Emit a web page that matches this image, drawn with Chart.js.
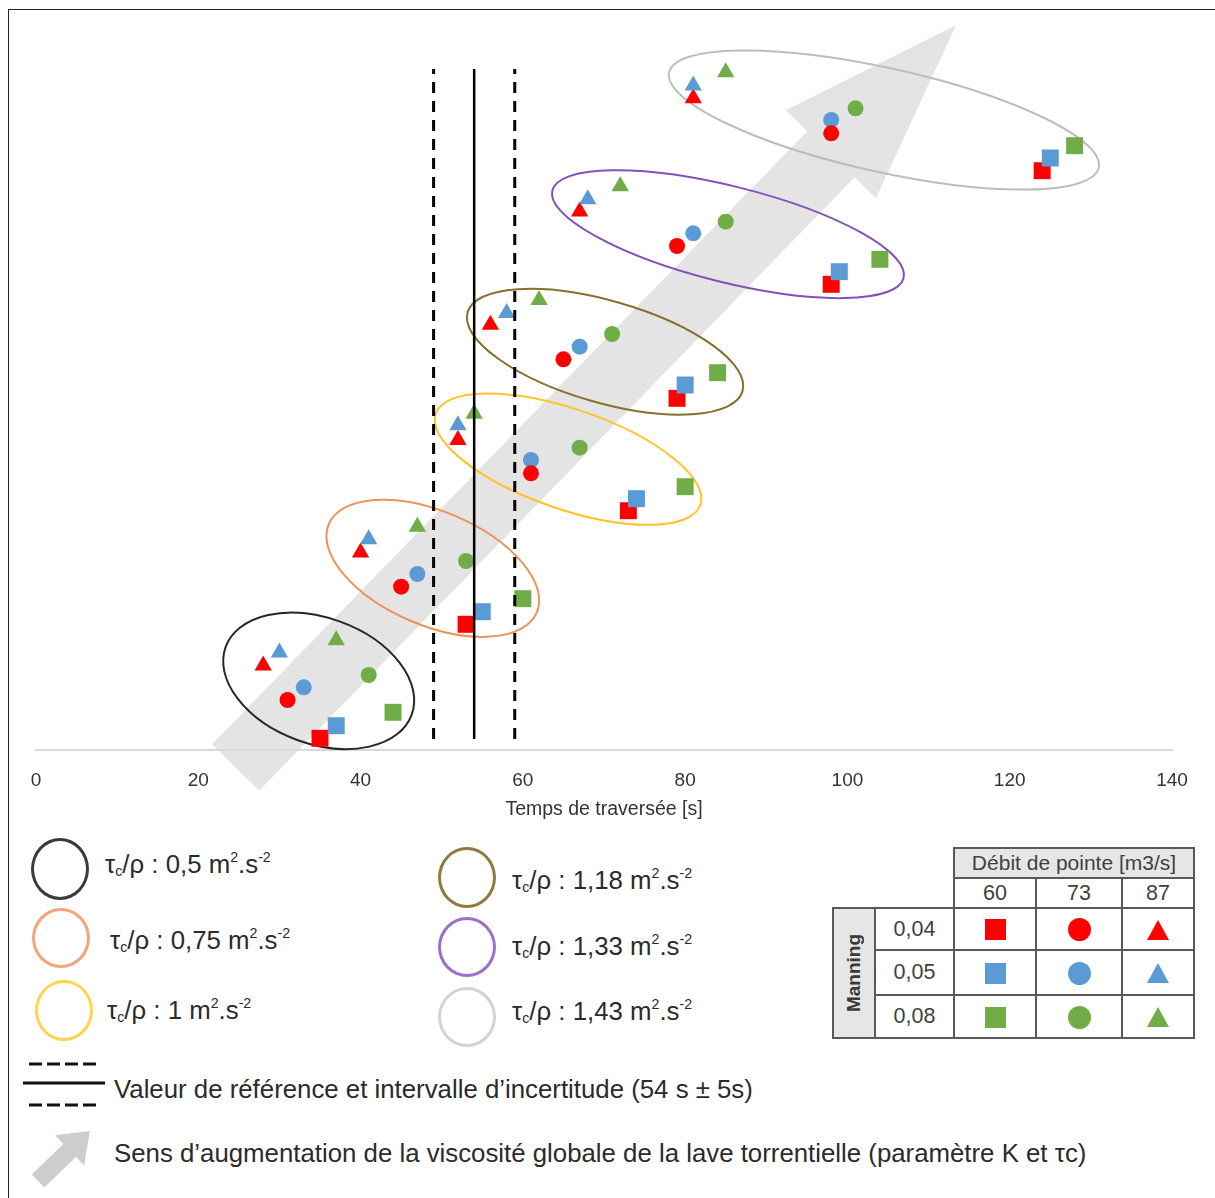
<!DOCTYPE html>
<html>
<head>
<meta charset="utf-8">
<script src="https://cdn.jsdelivr.net/npm/chart.js@4.4.1/dist/chart.umd.min.js"></script>
<style>
  html, body { margin:0; padding:0; background:#fff; }
  body { width:1215px; height:1198px; position:relative; overflow:hidden; font-family:'Liberation Sans', Arial, sans-serif; }
  #frame { position:absolute; left:8px; top:9px; width:1230px; height:1220px; border-left:1.5px solid #222; border-top:1.5px solid #222; pointer-events:none; z-index:5; }
  #c { position:absolute; left:0; top:0; }
  .lbl { position:absolute; font-size:25.8px; color:#2b2b2b; white-space:nowrap; line-height:26px; }
  .lbl sub { font-size:0.55em; vertical-align:-0.2em; line-height:0; }
  .lbl sup { font-size:0.55em; vertical-align:0.75em; line-height:0; }
  .ring { position:absolute; border-radius:50%; box-sizing:border-box; border-style:solid; border-width:3.5px; }
  #tbl { position:absolute; left:832px; top:847px; border-collapse:collapse; table-layout:fixed; font-size:21.5px; color:#404040; }
  #tbl td { border:2px solid #595959; text-align:center; vertical-align:middle; padding:0; }
  #tbl td.nb { border:none; }
  #tbl td.hdr { background:#E7E6E6; font-size:21px; }
  #tbl td.man { background:#E7E6E6; }
  #tbl td.man div { writing-mode:vertical-rl; transform:rotate(180deg); font-weight:bold; font-size:19px; color:#3a3a3a; margin:auto; }
  .sym { display:inline-block; vertical-align:middle; }
  .sq { width:21px; height:21px; }
  .ci { width:23px; height:23px; border-radius:50%; }
  .tr { width:0; height:0; border-left:11px solid transparent; border-right:11px solid transparent; border-bottom-width:20px; border-bottom-style:solid; }
</style>
</head>
<body>
<canvas id="c" width="1215" height="830"></canvas>
<div id="frame"></div>

<!-- legend: yield stress groups -->
<div class="ring" style="left:31px;top:838px;width:58px;height:62px;border-color:#3a3a3a;"></div>
<div class="ring" style="left:32px;top:908px;width:58px;height:60px;border-color:#F4A67A;"></div>
<div class="ring" style="left:35px;top:980px;width:58px;height:61px;border-color:#FFD54F;"></div>
<div class="ring" style="left:438px;top:847px;width:58px;height:61px;border-color:#8D7A3C;"></div>
<div class="ring" style="left:438px;top:917px;width:58px;height:60px;border-color:#9A6FCE;"></div>
<div class="ring" style="left:438px;top:987px;width:58px;height:60px;border-color:#D3D3D3;"></div>

<div class="lbl" style="left:105px;top:851px;">τ<sub>c</sub>/ρ : 0,5 m<sup>2</sup>.s<sup>-2</sup></div>
<div class="lbl" style="left:110px;top:927px;">τ<sub>c</sub>/ρ : 0,75 m<sup>2</sup>.s<sup>-2</sup></div>
<div class="lbl" style="left:107px;top:997px;">τ<sub>c</sub>/ρ : 1 m<sup>2</sup>.s<sup>-2</sup></div>
<div class="lbl" style="left:512px;top:867px;">τ<sub>c</sub>/ρ : 1,18 m<sup>2</sup>.s<sup>-2</sup></div>
<div class="lbl" style="left:512px;top:933px;">τ<sub>c</sub>/ρ : 1,33 m<sup>2</sup>.s<sup>-2</sup></div>
<div class="lbl" style="left:512px;top:998px;">τ<sub>c</sub>/ρ : 1,43 m<sup>2</sup>.s<sup>-2</sup></div>

<!-- legend: reference lines -->
<svg style="position:absolute;left:0;top:1050px;" width="120" height="70">
  <line x1="29" y1="14" x2="100" y2="14" stroke="#111" stroke-width="3" stroke-dasharray="13,5"/>
  <line x1="23" y1="33" x2="105" y2="33" stroke="#111" stroke-width="3"/>
  <line x1="29" y1="55" x2="100" y2="55" stroke="#111" stroke-width="3" stroke-dasharray="13,5"/>
</svg>
<div class="lbl" style="left:114px;top:1076px;">Valeur de référence et intervalle d’incertitude (54 s ± 5s)</div>

<!-- legend: arrow -->
<svg style="position:absolute;left:0;top:1110px;" width="120" height="88">
  <g transform="translate(38,71) rotate(-44)">
    <polygon points="0,-9 44,-9 44,-21 72,0 44,21 44,9 0,9" fill="#CDCDCD"/>
  </g>
</svg>
<div class="lbl" style="left:114px;top:1140px;">Sens d’augmentation de la viscosité globale de la lave torrentielle (paramètre K et τc)</div>

<!-- legend table -->
<table id="tbl">
  <colgroup><col style="width:42px"><col style="width:79px"><col style="width:82px"><col style="width:86px"><col style="width:72px"></colgroup>
  <tr style="height:30px"><td class="nb" colspan="2"></td><td class="hdr" colspan="3">Débit de pointe [m3/s]</td></tr>
  <tr style="height:30px"><td class="nb" colspan="2"></td><td>60</td><td>73</td><td>87</td></tr>
  <tr style="height:42px"><td class="man" rowspan="3"><div>Manning</div></td><td>0,04</td>
    <td><span class="sym sq" style="background:#FF0000"></span></td>
    <td><span class="sym ci" style="background:#FF0000"></span></td>
    <td><span class="sym tr" style="border-bottom-color:#FF0000"></span></td></tr>
  <tr style="height:45px"><td>0,05</td>
    <td><span class="sym sq" style="background:#5B9BD5"></span></td>
    <td><span class="sym ci" style="background:#5B9BD5"></span></td>
    <td><span class="sym tr" style="border-bottom-color:#5B9BD5"></span></td></tr>
  <tr style="height:43px"><td>0,08</td>
    <td><span class="sym sq" style="background:#70AD47"></span></td>
    <td><span class="sym ci" style="background:#70AD47"></span></td>
    <td><span class="sym tr" style="border-bottom-color:#70AD47"></span></td></tr>
</table>

<script>
// ---- Data: crossing time [s] for each of the 6 yield-stress groups (τc/ρ) ----
const groups = ['0,5', '0,75', '1', '1,18', '1,33', '1,43'];

// Manning 0,04 (red), 0,05 (blue), 0,08 (green); Q = 60 (square), 73 (circle), 87 (triangle)
const t_n004_q60 = [35, 53, 73, 79, 98, 124];
const t_n005_q60 = [37, 55, 74, 80, 99, 125];
const t_n008_q60 = [44, 60, 80, 84, 104, 128];
const t_n004_q73 = [31, 45, 61, 65, 79, 98];
const t_n005_q73 = [33, 47, 61, 67, 81, 98];
const t_n008_q73 = [41, 53, 67, 71, 85, 101];
const t_n004_q87 = [28, 40, 52, 56, 67, 81];
const t_n005_q87 = [30, 41, 52, 58, 68, 81];
const t_n008_q87 = [37, 47, 54, 62, 72, 85];

// vertical placement (arbitrary, unlabeled axis)
const y_n004_q60 = [1.17, 12.57, 23.93, 35.17, 46.57, 57.93];
const y_n005_q60 = [2.43, 13.83, 25.13, 36.5, 47.83, 59.2];
const y_n008_q60 = [3.77, 15.13, 26.33, 37.73, 49.07, 60.43];
const y_n004_q73 = [5.0, 16.33, 27.67, 39.07, 50.4, 61.67];
const y_n005_q73 = [6.27, 17.6, 29.0, 40.33, 51.67, 63.0];
const y_n008_q73 = [7.5, 18.9, 30.23, 41.6, 52.83, 64.17];
const y_n004_q87 = [8.45, 19.75, 31.0, 42.52, 53.85, 65.17];
const y_n005_q87 = [9.75, 21.08, 32.48, 43.7, 55.08, 66.45];
const y_n008_q87 = [10.98, 22.32, 33.63, 45.0, 56.38, 67.78];

const refTime = 54;
const refUncertainty = 5;
const xTicks = [0, 20, 40, 60, 80, 100, 120, 140];

// ---- Annotation shapes (in data coordinates for centres) ----
const ellipseShapes = [
  { cx: 34.84, cy: 6.92,  rx: 99,  ry: 63, rot: 20,   color: '#262626' },
  { cx: 48.9,  cy: 18.17, rx: 113, ry: 57, rot: 23,   color: '#EE9356' },
  { cx: 65.57, cy: 29.08, rx: 140, ry: 50, rot: 19,   color: '#FFC329' },
  { cx: 70.13, cy: 39.83, rx: 143, ry: 51, rot: 16,   color: '#85702E' },
  { cx: 85.28, cy: 51.58, rx: 181, ry: 48, rot: 14,   color: '#8352B8' },
  { cx: 104.5, cy: 63.0,  rx: 220, ry: 52, rot: 12.5, color: '#BDBDBD' }
];
const bigArrow = { tailX: 24.6, tailY: -1.75, tipX: 113.4, tipY: 72.5, shaftW: 66, headW: 126, headL: 180, color: '#E4E4E4' };
const lineYBottom = 1.1, lineYTop = 68.1;

const RED = '#FF0000', BLUE = '#5B9BD5', GREEN = '#70AD47';

function pts(xs, ys) { return xs.map((v, i) => ({ x: v, y: ys[i] })); }
function series(label, xs, ys, style, color, radius, order) {
  return { label, data: pts(xs, ys), pointStyle: style, backgroundColor: color, borderColor: color,
           pointBorderWidth: 0, pointRadius: radius, pointHoverRadius: radius, showLine: false, order, clip: false };
}
function vline(xv, dashed) {
  return { type: 'line', data: [{ x: xv, y: lineYBottom }, { x: xv, y: lineYTop }], borderColor: '#000',
           borderWidth: dashed ? 3 : 2.5, borderDash: dashed ? [11, 8] : [], pointRadius: 0, showLine: true,
           order: 0, clip: false, fill: false };
}

const decor = {
  id: 'decor',
  beforeDraw(chart) {
    const { ctx, scales: { x, y } } = chart;
    const a = bigArrow;
    const tx = x.getPixelForValue(a.tailX), ty = y.getPixelForValue(a.tailY);
    const px = x.getPixelForValue(a.tipX), py = y.getPixelForValue(a.tipY);
    const L = Math.hypot(px - tx, py - ty);
    ctx.save();
    ctx.translate(tx, ty);
    ctx.rotate(Math.atan2(py - ty, px - tx));
    ctx.beginPath();
    ctx.moveTo(0, -a.shaftW / 2);
    ctx.lineTo(L - a.headL, -a.shaftW / 2);
    ctx.lineTo(L - a.headL, -a.headW / 2);
    ctx.lineTo(L, 0);
    ctx.lineTo(L - a.headL, a.headW / 2);
    ctx.lineTo(L - a.headL, a.shaftW / 2);
    ctx.lineTo(0, a.shaftW / 2);
    ctx.closePath();
    ctx.fillStyle = a.color;
    ctx.fill();
    ctx.restore();
  },
  beforeDatasetsDraw(chart) {
    const { ctx, scales: { x, y } } = chart;
    ctx.save();
    ctx.lineWidth = 2;
    for (const e of ellipseShapes) {
      ctx.beginPath();
      ctx.ellipse(x.getPixelForValue(e.cx), y.getPixelForValue(e.cy), e.rx, e.ry, e.rot * Math.PI / 180, 0, Math.PI * 2);
      ctx.strokeStyle = e.color;
      ctx.stroke();
    }
    ctx.restore();
  }
};

new Chart(document.getElementById('c'), {
  type: 'scatter',
  data: {
    datasets: [
      vline(refTime - refUncertainty, true),
      vline(refTime, false),
      vline(refTime + refUncertainty, true),
      series('n=0,04 Q=60', t_n004_q60, y_n004_q60, 'rect', RED, 12, 3),
      series('n=0,05 Q=60', t_n005_q60, y_n005_q60, 'rect', BLUE, 12, 2),
      series('n=0,08 Q=60', t_n008_q60, y_n008_q60, 'rect', GREEN, 12, 1),
      series('n=0,04 Q=73', t_n004_q73, y_n004_q73, 'circle', RED, 8, 1),
      series('n=0,05 Q=73', t_n005_q73, y_n005_q73, 'circle', BLUE, 8, 2),
      series('n=0,08 Q=73', t_n008_q73, y_n008_q73, 'circle', GREEN, 8, 1),
      series('n=0,04 Q=87', t_n004_q87, y_n004_q87, 'triangle', RED, 10, 3),
      series('n=0,05 Q=87', t_n005_q87, y_n005_q87, 'triangle', BLUE, 10, 2),
      series('n=0,08 Q=87', t_n008_q87, y_n008_q87, 'triangle', GREEN, 10, 1)
    ]
  },
  options: {
    responsive: false,
    animation: false,
    layout: { padding: { left: 36, right: 43, top: 20, bottom: 0 } },
    plugins: { legend: { display: false }, tooltip: { enabled: false } },
    scales: {
      x: {
        type: 'linear', min: xTicks[0], max: xTicks[xTicks.length - 1],
        afterBuildTicks(s) { s.ticks = xTicks.map(v => ({ value: v })); },
        afterFit(s) { s.height = 80; },
        grid: { display: false, drawTicks: false },
        border: { display: true, color: '#D9D9D9', width: 2 },
        ticks: { padding: 19, color: '#333', font: { family: 'Liberation Sans', size: 19 } },
        title: { display: true, text: 'Temps de traversée [s]', color: '#333',
                 font: { family: 'Liberation Sans', size: 19.5 }, padding: { top: 0, bottom: 9 } }
      },
      y: { display: false, min: 0, max: 73 }
    }
  },
  plugins: [decor]
});
</script>
</body>
</html>
